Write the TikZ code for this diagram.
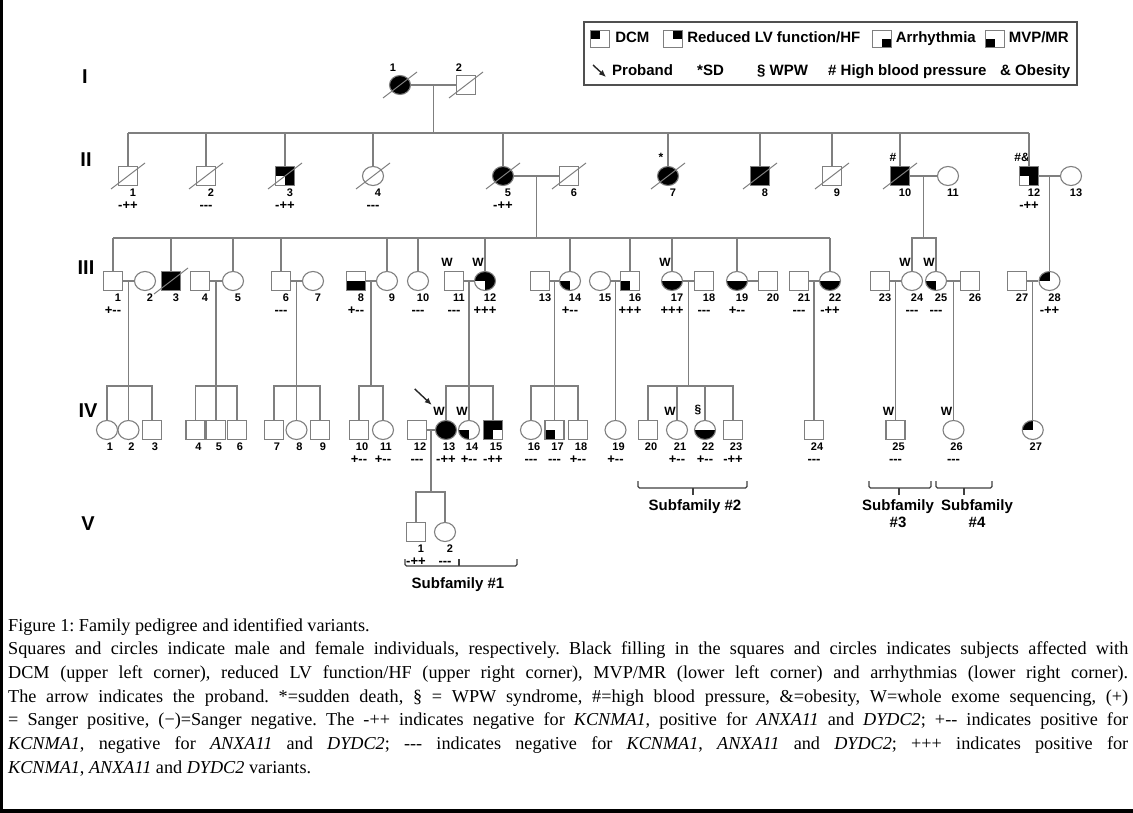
\documentclass[tikz,border=0pt]{standalone}
\usepackage{fontspec}
\setmainfont{Liberation Serif}
\newfontfamily\pedfont{Liberation Sans}
\usetikzlibrary{arrows.meta,positioning,shapes.geometric}
\definecolor{pedgray}{HTML}{7F7F7F}
\definecolor{keygray}{HTML}{505050}
\frenchspacing
\tikzset{
  indiv/.style={draw=pedgray, line width=1.1pt, inner sep=0pt, fill=white},
  male/.style={indiv, rectangle, minimum width=19pt, minimum height=19pt},
  female/.style={indiv, ellipse, minimum width=21pt, minimum height=19pt},
  aff/.style={fill=black},
  dcm/.style={path picture={\fill[black] (path picture bounding box.center) rectangle (path picture bounding box.north west);}},
  hfq/.style={path picture={\fill[black] (path picture bounding box.center) rectangle (path picture bounding box.north east);}},
  arrq/.style={path picture={\fill[black] (path picture bounding box.center) rectangle (path picture bounding box.south east);}},
  mvp/.style={path picture={\fill[black] (path picture bounding box.center) rectangle (path picture bounding box.south west);}},
  lowhalf/.style={path picture={\fill[black] (path picture bounding box.west) rectangle (path picture bounding box.south east);}},
  noll/.style={path picture={\fill[black] (path picture bounding box.north west) rectangle (path picture bounding box.east);
    \fill[black] (path picture bounding box.center) rectangle (path picture bounding box.south east);}},
  nolr/.style={path picture={\fill[black] (path picture bounding box.north west) rectangle (path picture bounding box.east);
    \fill[black] (path picture bounding box.center) rectangle (path picture bounding box.south west);}},
  kin/.style={draw=pedgray, line width=1.1pt},
  slash/.style={draw=pedgray, line width=1pt},
  num/.style={font=\pedfont\bfseries\fontsize{11}{11}\selectfont, inner sep=0pt, text height=8pt, text depth=0pt, xshift=5pt, label distance=2.5pt},
  numup/.style={font=\pedfont\bfseries\fontsize{11}{11}\selectfont, inner sep=0pt, text height=8pt, text depth=0pt, xshift=-7pt, label distance=3pt},
  var/.style={font=\pedfont\bfseries\fontsize{13}{13}\selectfont, inner sep=0pt, text height=7pt, text depth=0pt, label distance=16.5pt},
  mk/.style={font=\pedfont\bfseries\fontsize{12}{12}\selectfont, inner sep=0pt, xshift=-7pt, label distance=4.5pt},
  gen/.style={font=\pedfont\bfseries\fontsize{20}{20}\selectfont, inner sep=0pt},
  keytext/.style={font=\pedfont\bfseries\fontsize{15}{15}\selectfont, inner sep=0pt, text height=11pt, text depth=3pt, anchor=west},
  keyframe/.style={draw=keygray, line width=2.2pt},
  subfam/.style={font=\pedfont\bfseries\fontsize{15}{17}\selectfont, align=center, inner sep=0pt},
  brk/.style={draw=black!75, line width=1.3pt, rounded corners=1.5pt},
  proband/.style={-{Latex[length=7pt,width=6pt]}, line width=1.4pt, draw=black!85},
  caption/.style={anchor=north west, inner sep=0pt, align=left, font=\fontsize{18.2}{23.7}\selectfont}
}
\begin{document}
\begin{tikzpicture}[x=1pt,y=-1pt]
\useasboundingbox (0,0) rectangle (1133,813);
\fill[white] (0,0) rectangle (1133,813);
\fill[black] (0,0) rectangle (3,813);
\fill[black] (0,809) rectangle (1133,813);

% generations
\node[gen] (gI) at (85,77) {I};
\node[gen] (gII) at (86,160) {II};
\node[gen] (gIII) at (86,268) {III};
\node[gen] (gIV) at (88,411) {IV};
\node[gen] (gV) at (88,524) {V};

% legend
\draw[keyframe] (584,22) rectangle (1077,85);
\node[male,dcm,minimum height=17pt] (kdcm) at (600,39) {};
\node[keytext, right=5pt of kdcm] (tdcm) {DCM};
\node[male,hfq,minimum height=17pt] (khf) at (673,39) {};
\node[keytext, right=4pt of khf] (thf) {Reduced LV function/HF};
\node[male,arrq,minimum height=17pt] (karr) at (882,39) {};
\node[keytext, right=3.5pt of karr] (tarr) {Arrhythmia};
\node[male,mvp,minimum height=17pt] (kmvp) at (995,39) {};
\node[keytext, right=3.5pt of kmvp] (tmvp) {MVP/MR};
\coordinate (ka) at (593,65);
\draw[proband] (ka) -- ++(13,12);
\node[keytext] (tpro) at (612,72) {Proband};
\node[keytext] (tsd) at (697,72) {*SD};
\node[keytext] (twpw) at (757,72) {§ WPW};
\node[keytext] (thbp) at (828,72) {\# High blood pressure};
\node[keytext] (tob) at (1000,72) {\& Obesity};

% generation I
\node[female,aff,label={[numup]above:1}] (I1) at (400,85) {};
\node[male,label={[numup]above:2}] (I2) at (466,85) {};

% generation II
\node[male,label={[num]below:1},label={[var]below:-++}] (II1) at (128,176) {};
\node[male,label={[num]below:2},label={[var]below:-{}-{}-}] (II2) at (206,176) {};
\node[male,noll,label={[num]below:3},label={[var]below:-++}] (II3) at (285,176) {};
\node[female,label={[num]below:4},label={[var]below:-{}-{}-}] (II4) at (373,176) {};
\node[female,aff,label={[num]below:5},label={[var]below:-++}] (II5) at (503,176) {};
\node[male,label={[num]below:6}] (II6) at (569,176) {};
\node[female,aff,label={[num]below:7},label={[mk]above:*}] (II7) at (668,176) {};
\node[male,aff,label={[num]below:8}] (II8) at (760,176) {};
\node[male,label={[num]below:9}] (II9) at (832,176) {};
\node[male,aff,label={[num]below:10},label={[mk]above:\#}] (II10) at (900,176) {};
\node[female,label={[num]below:11}] (II11) at (948,176) {};
\node[male,noll,label={[num]below:12},label={[var]below:-++},label={[mk]above:\#\&}] (II12) at (1029,176) {};
\node[female,label={[num]below:13}] (II13) at (1071,176) {};

% generation III
\node[male,label={[num]below:1},label={[var]below:+-{}-}] (III1) at (113,281) {};
\node[female,label={[num]below:2}] (III2) at (145,281) {};
\node[male,aff,label={[num]below:3}] (III3) at (171,281) {};
\node[male,label={[num]below:4}] (III4) at (200,281) {};
\node[female,label={[num]below:5}] (III5) at (233,281) {};
\node[male,label={[num]below:6},label={[var]below:-{}-{}-}] (III6) at (281,281) {};
\node[female,label={[num]below:7}] (III7) at (313,281) {};
\node[male,lowhalf,label={[num]below:8},label={[var]below:+-{}-}] (III8) at (356,281) {};
\node[female,label={[num]below:9}] (III9) at (387,281) {};
\node[female,label={[num]below:10},label={[var]below:-{}-{}-}] (III10) at (418,281) {};
\node[male,label={[num]below:11},label={[var]below:-{}-{}-},label={[mk]above:W}] (III11) at (454,281) {};
\node[female,noll,label={[num]below:12},label={[var]below:+++},label={[mk]above:W}] (III12) at (485,281) {};
\node[male,label={[num]below:13}] (III13) at (540,281) {};
\node[female,mvp,label={[num]below:14},label={[var]below:+-{}-}] (III14) at (570,281) {};
\node[female,label={[num]below:15}] (III15) at (600,281) {};
\node[male,mvp,label={[num]below:16},label={[var]below:+++}] (III16) at (630,281) {};
\node[female,lowhalf,label={[num]below:17},label={[var]below:+++},label={[mk]above:W}] (III17) at (672,281) {};
\node[male,label={[num]below:18},label={[var]below:-{}-{}-}] (III18) at (704,281) {};
\node[female,lowhalf,label={[num]below:19},label={[var]below:+-{}-}] (III19) at (737,281) {};
\node[male,label={[num]below:20}] (III20) at (768,281) {};
\node[male,label={[num]below:21},label={[var]below:-{}-{}-}] (III21) at (799,281) {};
\node[female,lowhalf,label={[num]below:22},label={[var]below:-++}] (III22) at (830,281) {};
\node[male,label={[num]below:23}] (III23) at (880,281) {};
\node[female,label={[num]below:24},label={[var]below:-{}-{}-},label={[mk]above:W}] (III24) at (912,281) {};
\node[female,mvp,label={[num]below:25},label={[var]below:-{}-{}-},label={[mk]above:W}] (III25) at (936,281) {};
\node[male,label={[num]below:26}] (III26) at (970,281) {};
\node[male,label={[num]below:27}] (III27) at (1017,281) {};
\node[female,dcm,label={[num]below:28},label={[var]below:-++}] (III28) at (1049.5,281) {};

% generation IV
\begin{scope}[num/.append style={xshift=-2pt}]
\node[female,label={[num]below:1}] (IV1) at (107,430) {};
\node[female,label={[num]below:2}] (IV2) at (128.5,430) {};
\node[male,label={[num]below:3}] (IV3) at (152,430) {};
\node[male,label={[num]below:4}] (IV4) at (195.5,430) {};
\node[male,label={[num]below:5}] (IV5) at (216,430) {};
\node[male,label={[num]below:6}] (IV6) at (237,430) {};
\node[male,label={[num]below:7}] (IV7) at (274,430) {};
\node[female,label={[num]below:8}] (IV8) at (296.5,430) {};
\node[male,label={[num]below:9}] (IV9) at (320,430) {};
\node[male,label={[num]below:10},label={[var]below:+-{}-}] (IV10) at (359,430) {};
\node[female,label={[num]below:11},label={[var]below:+-{}-}] (IV11) at (383,430) {};
\node[male,label={[num]below:12},label={[var]below:-{}-{}-}] (IV12) at (417,430) {};
\node[female,aff,label={[num]below:13},label={[var]below:-++},label={[mk]above:W}] (IV13) at (446,430) {};
\node[female,mvp,label={[num]below:14},label={[var]below:+-{}-},label={[mk]above:W}] (IV14) at (469,430) {};
\node[male,nolr,label={[num]below:15},label={[var]below:-++}] (IV15) at (493,430) {};
\node[female,label={[num]below:16},label={[var]below:-{}-{}-}] (IV16) at (531,430) {};
\node[male,mvp,label={[num]below:17},label={[var]below:-{}-{}-}] (IV17) at (554.5,430) {};
\node[male,label={[num]below:18},label={[var]below:+-{}-}] (IV18) at (578,430) {};
\node[female,label={[num]below:19},label={[var]below:+-{}-}] (IV19) at (615.5,430) {};
\node[male,label={[num]below:20}] (IV20) at (648,430) {};
\node[female,label={[num]below:21},label={[var]below:+-{}-},label={[mk]above:W}] (IV21) at (677,430) {};
\node[female,lowhalf,label={[num]below:22},label={[var]below:+-{}-},label={[mk]above:§}] (IV22) at (705,430) {};
\node[male,label={[num]below:23},label={[var]below:-++}] (IV23) at (733,430) {};
\node[male,label={[num]below:24},label={[var]below:-{}-{}-}] (IV24) at (814,430) {};
\node[male,label={[num]below:25},label={[var]below:-{}-{}-},label={[mk]above:W}] (IV25) at (895.5,430) {};
\node[female,label={[num]below:26},label={[var]below:-{}-{}-},label={[mk]above:W}] (IV26) at (953.5,430) {};
\node[female,dcm,label={[num]below:27}] (IV27) at (1032.75,430) {};
\end{scope}

% generation V
\node[male,label={[num]below:1},label={[var]below:-++}] (V1) at (416,532) {};
\node[female,label={[num]below:2},label={[var]below:-{}-{}-}] (V2) at (445,532) {};

% deceased
\foreach \p in {I1,I2,II1,II2,II3,II4,II5,II6,II7,II8,II9,II10,III3}
  \draw[slash] ([shift={(-17,13)}]\p.center) -- ([shift={(17,-13)}]\p.center);

% lines of descent
\coordinate (sII) at (0,133);
\coordinate (sIII) at (0,238);
\coordinate (sIV) at (0,386);
\coordinate (sV) at (0,492);
\draw[kin] (I1) -- (I2) coordinate[midway] (mI);
\draw[kin] (mI) -- (mI |- sII);
\draw[kin] (II1.north |- sII) -- (II12.north |- sII);
\foreach \p in {II1,II2,II3,II4,II5,II7,II8,II9,II10,II12}
  \draw[kin] (\p.north) -- (\p.north |- sII);
\foreach \a/\b/\m in {II5/II6/m5,II10/II11/m10,II12/II13/m12}
  \draw[kin] (\a) -- (\b) coordinate[midway] (\m);
\draw[kin] (m5) -- (m5 |- sIII);
\draw[kin] (III1.north |- sIII) -- (III22.north |- sIII);
\foreach \p in {III1,III3,III5,III6,III9,III10,III12,III14,III16,III17,III19,III22}
  \draw[kin] (\p.north) -- (\p.north |- sIII);
\draw[kin] (m10) -- (m10 |- sIII);
\draw[kin] (III24.north) |- (m10 |- sIII) -| (III25.north);
\draw[kin] (m12) -- (m12 |- III28.north);

\foreach \a/\b/\m in {III1/III2/c1,III4/III5/c4,III6/III7/c6,III8/III9/c8,III11/III12/c11,III13/III14/c13,III15/III16/c15,III17/III18/c17,III19/III20/c19,III21/III22/c21,III23/III24/c23,III25/III26/c25,III27/III28/c27}
  \draw[kin] (\a) -- (\b) coordinate[midway] (\m);
\foreach \m/\k in {c1/IV2,c4/IV5,c6/IV8,c11/IV14,c13/IV17,c15/IV19,c21/IV24,c23/IV25,c25/IV26,c27/IV27}
  \draw[kin] (\m) -- (\m |- \k.north);
\foreach \m in {c8,c17}
  \draw[kin] (\m) -- (\m |- sIV);
\foreach \f/\l in {IV1/IV3,IV4/IV6,IV7/IV9,IV10/IV11,IV13/IV15,IV16/IV18,IV20/IV23}
  \draw[kin] (\f.north) |- (\l.north |- sIV) -- (\l.north);
\foreach \p in {IV21,IV22}
  \draw[kin] (\p.north) -- (\p.north |- sIV);

\draw[kin] (IV12) -- (IV13) coordinate[midway] (d12);
\draw[kin] (d12) -- (d12 |- sV);
\draw[kin] (V1.north) |- (V2.north |- sV) -- (V2.north);

% proband
\coordinate (pa) at ([shift={(-23.5,-34)}]IV13.north west);
\draw[proband] (pa) -- ([shift={(-6.5,-18)}]IV13.north west);

% subfamilies
\draw[brk] (405,559) |- (517,566) -- (517,559);
\draw[brk] (459,566) -- (459,559);
\node[subfam] (sub1) at (458,585) {Subfamily \#1};
\draw[brk] (638,481) |- (747,488) -- (747,481);
\draw[brk] (693,488) -- (693,495);
\node[subfam] (sub2) at (695,507) {Subfamily \#2};
\draw[brk] (869,481) |- (931,488) -- (931,481);
\draw[brk] (899,488) -- (899,495);
\node[subfam] (sub3) at (898,514) {Subfamily\\\#3};
\draw[brk] (936,481) |- (992,488) -- (992,481);
\draw[brk] (964,488) -- (964,495);
\node[subfam] (sub4) at (977,514) {Subfamily\\\#4};

% caption
\node[caption] (cap) at (8,618) {%
\makebox[1120pt][l]{Figure 1: Family pedigree and identified variants.}\\
\makebox[1120pt][s]{Squares and circles indicate male and female individuals, respectively. Black filling in the squares and circles indicates subjects affected with}\\
\makebox[1120pt][s]{DCM (upper left corner), reduced LV function/HF (upper right corner), MVP/MR (lower left corner) and arrhythmias (lower right corner).}\\
\makebox[1120pt][s]{The arrow indicates the proband. *=sudden death, § = WPW syndrome, \#=high blood pressure, \&=obesity, W=whole exome sequencing, (+)}\\
\makebox[1120pt][s]{= Sanger positive, (−)=Sanger negative. The -++ indicates negative for \textit{KCNMA1}, positive for \textit{ANXA11} and \textit{DYDC2}; +-{}- indicates positive for}\\
\makebox[1120pt][s]{\textit{KCNMA1}, negative for \textit{ANXA11} and \textit{DYDC2}; -{}-{}- indicates negative for \textit{KCNMA1}, \textit{ANXA11} and \textit{DYDC2}; +++ indicates positive for}\\
\makebox[1120pt][l]{\textit{KCNMA1}, \textit{ANXA11} and \textit{DYDC2} variants.}};
\end{tikzpicture}
\end{document}
